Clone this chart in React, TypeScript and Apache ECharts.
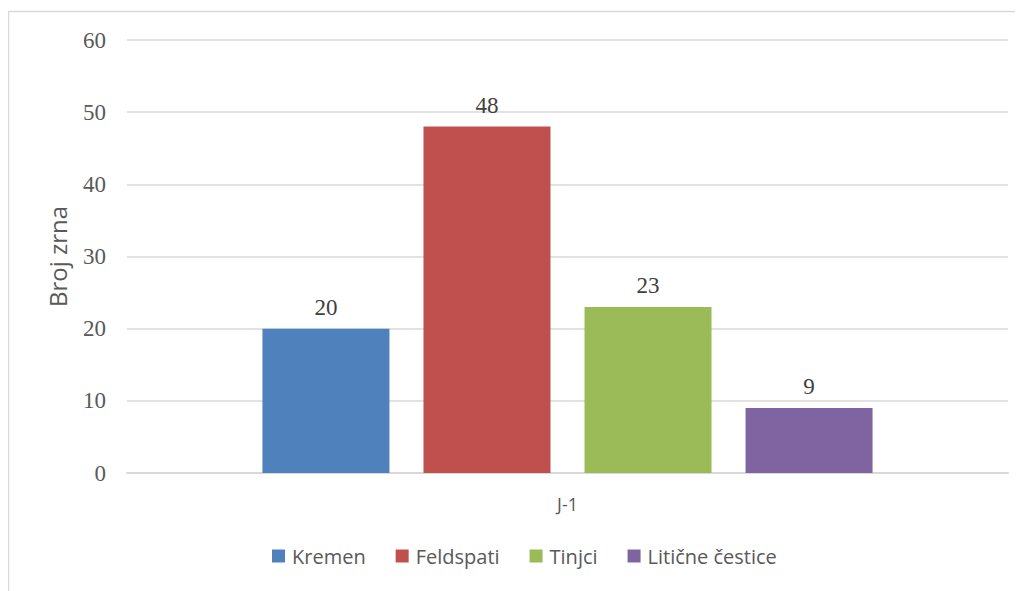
import React, { useEffect, useRef } from "react";
import * as echarts from "echarts";

const categories = ["J-1"];
const seriesNames = ["Kremen", "Feldspati", "Tinjci", "Litične čestice"];
const seriesValues = [[20], [48], [23], [9]];
const colors = ["#4f81bd", "#c0504d", "#9bbb59", "#8064a2"];

export default function App() {
  const ref = useRef<HTMLDivElement>(null);
  useEffect(() => {
    const chart = echarts.init(ref.current!, null, { renderer: "svg" });
    chart.setOption({
      animation: false,
      backgroundColor: "#ffffff",
      graphic: [
        {
          type: "rect",
          shape: { x: 0.5, y: 3.5, width: 1100, height: 700 },
          style: { fill: "none", stroke: "#d9d9d9", lineWidth: 1.5 },
          silent: true,
        },
      ],
      grid: { left: 119, right: 15, top: 32, bottom: 118 },
      legend: {
        bottom: 20,
        left: 259,
        itemWidth: 13,
        itemHeight: 13,
        itemGap: 30,
        icon: "rect",
        textStyle: { fontFamily: "Open Sans", fontSize: 20, color: "#595959", padding: [0, 0, 0, 2] },
        data: seriesNames,
      },
      xAxis: {
        type: "category",
        data: categories,
        axisLine: { lineStyle: { color: "#d9d9d9", width: 2 } },
        axisTick: { show: false },
        axisLabel: { fontFamily: "Open Sans", fontSize: 18, color: "#595959", margin: 22 },
      },
      yAxis: {
        type: "value",
        min: 0,
        max: 60,
        interval: 10,
        name: "Broj zrna",
        nameLocation: "middle",
        nameGap: 58,
        nameTextStyle: { fontFamily: "Open Sans", fontSize: 24, color: "#595959" },
        axisLine: { show: false },
        axisTick: { show: false },
        axisLabel: { fontFamily: "Liberation Serif", fontSize: 23, color: "#595959", margin: 21 },
        splitLine: { lineStyle: { color: "#d9d9d9", width: 1.5 } },
      },
      series: seriesNames.map((name, i) => ({
        name,
        type: "bar",
        data: seriesValues[i],
        barWidth: 127,
        barGap: "26.8%",
        itemStyle: { color: colors[i] },
        label: {
          show: true,
          position: "top",
          distance: 10,
          fontFamily: "Liberation Serif",
          fontSize: 23,
          color: "#404040",
        },
      })),
    });
    return () => chart.dispose();
  }, []);
  return <div ref={ref} style={{ width: 1015, height: 583 }} />;
}
